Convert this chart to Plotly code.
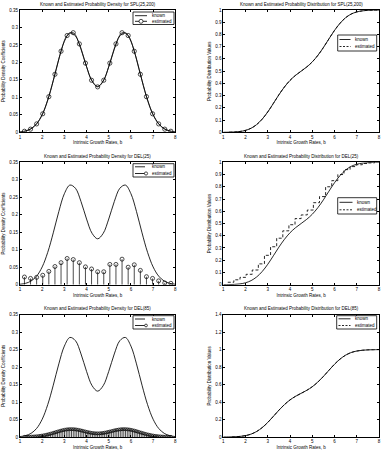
import numpy as np
import plotly.graph_objects as go

W, H = 382, 453
FONT = "Liberation Sans"
FS = 4.5

# ---------------- data ----------------
x_known = [1.0, 1.25, 1.5, 1.75, 2.0, 2.25, 2.5, 2.75, 3.0, 3.25, 3.5, 3.75, 4.0, 4.25, 4.5,
           4.75, 5.0, 5.25, 5.5, 5.75, 6.0, 6.25, 6.5, 6.75, 7.0, 7.25, 7.5, 7.75, 8.0]
pdf_known = [0.0013, 0.0039, 0.0105, 0.0246, 0.0508, 0.0925, 0.1483, 0.2093, 0.2602, 0.2849,
             0.2757, 0.2377, 0.1878, 0.1468, 0.1312, 0.1468, 0.1878, 0.2377, 0.2757, 0.2849,
             0.2602, 0.2093, 0.1483, 0.0925, 0.0508, 0.0246, 0.0105, 0.0039, 0.0013]
cdf_known = [0.0003, 0.0009, 0.0025, 0.0067, 0.0158, 0.0334, 0.0633, 0.108, 0.167, 0.236,
             0.307, 0.371, 0.4245, 0.466, 0.5, 0.534, 0.5755, 0.629, 0.693, 0.764,
             0.833, 0.892, 0.937, 0.967, 0.984, 0.993, 0.9975, 0.9992, 0.9998]

x_25 = [1.2, 1.475, 1.75, 2.025, 2.3, 2.575, 2.85, 3.125, 3.4, 3.675, 3.95, 4.225, 4.5,
        4.775, 5.05, 5.325, 5.6, 5.875, 6.15, 6.425, 6.7, 6.975, 7.25, 7.525, 7.8]
pdf_spl = [0.003, 0.009, 0.024, 0.053, 0.102, 0.166, 0.232, 0.277, 0.285, 0.253, 0.198, 0.149,
           0.130, 0.149, 0.198, 0.253, 0.285, 0.277, 0.232, 0.166, 0.102, 0.053, 0.024, 0.009, 0.003]
x_cdf_spl = [1.25, 1.5, 1.75, 2.0, 2.25, 2.5, 2.75, 3.0, 3.25, 3.5, 3.75, 4.0, 4.25, 4.5,
             4.75, 5.0, 5.25, 5.5, 5.75, 6.0, 6.25, 6.5, 6.75, 7.0, 7.25, 7.5, 7.75, 8.0]
cdf_spl = [0.0009, 0.0025, 0.0067, 0.0158, 0.0334, 0.0633, 0.108, 0.167, 0.236,
           0.307, 0.371, 0.4245, 0.466, 0.5, 0.534, 0.5755, 0.629, 0.693, 0.764,
           0.833, 0.892, 0.937, 0.967, 0.984, 0.993, 0.9975, 0.9992, 0.9998]

pdf_del25 = [0.022, 0.018, 0.021, 0.027, 0.038, 0.052, 0.063, 0.075, 0.072, 0.063, 0.051, 0.045,
             0.037, 0.037, 0.058, 0.058, 0.073, 0.050, 0.057, 0.041, 0.023, 0.018, 0.011, 0.005, 0.004]
cdf_del25 = [0.02, 0.04, 0.06, 0.085, 0.12, 0.17, 0.24, 0.31, 0.38, 0.44, 0.49, 0.54,
             0.57, 0.61, 0.67, 0.72, 0.80, 0.85, 0.90, 0.94, 0.965, 0.98, 0.99, 0.995, 1.0]

x_85 = list(np.linspace(1.2, 7.8, 85))
pdf_del85 = [0.00025, 0.00035, 0.00048, 0.00065, 0.00087, 0.00114, 0.0015, 0.00193, 0.00246,
             0.00309, 0.00384, 0.00472, 0.00571, 0.00683, 0.00807, 0.00942, 0.01085, 0.01234,
             0.01386, 0.01538, 0.01684, 0.01822, 0.01946, 0.02052, 0.02137, 0.02198, 0.02238,
             0.02246, 0.02227, 0.02183, 0.02115, 0.02026, 0.0192, 0.01803, 0.01679, 0.01554,
             0.01433, 0.0132, 0.01222, 0.01141, 0.0108, 0.01043, 0.01031,
             0.01043, 0.0108, 0.01141, 0.01222, 0.0132, 0.01433, 0.01554, 0.01679, 0.01803,
             0.0192, 0.02026, 0.02115, 0.02183, 0.02227, 0.02246, 0.02238, 0.02198, 0.02137,
             0.02052, 0.01946, 0.01822, 0.01684, 0.01538, 0.01386, 0.01234, 0.01085, 0.00942,
             0.00807, 0.00683, 0.00571, 0.00472, 0.00384, 0.00309, 0.00246, 0.00193, 0.0015,
             0.00114, 0.00087, 0.00065, 0.00048, 0.00035, 0.00025]
x_cdf85 = [1.4, 1.5, 1.75, 2.0, 2.25, 2.5, 2.75, 3.0, 3.25, 3.5, 3.75, 4.0, 4.25, 4.5,
           4.75, 5.0, 5.25, 5.5, 5.75, 6.0, 6.25, 6.5, 6.75, 7.0, 7.25, 7.5, 7.75, 7.8]
cdf_del85 = [0.002, 0.0025, 0.0067, 0.0158, 0.0334, 0.0633, 0.108, 0.167, 0.236,
             0.307, 0.371, 0.4245, 0.466, 0.5, 0.534, 0.5755, 0.629, 0.693, 0.764,
             0.833, 0.892, 0.937, 0.967, 0.984, 0.993, 0.9975, 0.9992, 0.9995]

x_ticks = [1, 2, 3, 4, 5, 6, 7, 8]
pdf_ticks = [0, 0.05, 0.1, 0.15, 0.2, 0.25, 0.3, 0.35]
pdf_ticktext = ["0", "0.05", "0.1", "0.15", "0.2", "0.25", "0.3", "0.35"]
cdf_ticks = [0, 0.1, 0.2, 0.3, 0.4, 0.5, 0.6, 0.7, 0.8, 0.9, 1.0]
cdf_ticktext = ["0", "0.1", "0.2", "0.3", "0.4", "0.5", "0.6", "0.7", "0.8", "0.9", "1"]
cdf2_ticks = [0, 0.2, 0.4, 0.6, 0.8, 1.0, 1.2, 1.4]
cdf2_ticktext = ["0", "0.2", "0.4", "0.6", "0.8", "1", "1.2", "1.4"]

titles = [
    "Known and Estimated Probability Density for SPL(25,200)",
    "Known and Estimated Probability Distribution for SPL(25,200)",
    "Known and Estimated Probability Density for DEL(25)",
    "Known and Estimated Probability Distribution for DEL(25)",
    "Known and Estimated Probability Density for DEL(85)",
    "Known and Estimated Probability Distribution for DEL(85)",
]
xlabel = "Intrinsic Growth Rates, b"
ylabel_pdf = "Probability Density Coefficients"
ylabel_cdf = "Probability Distribution Values"

# ---------------- layout geometry (pixels) ----------------
cols = [(20, 175.3), (223.3, 379)]
rows = [(10, 132.3), (162.3, 284.7), (314.7, 437)]


def px(x):
    return x / W


def py(y):
    return 1 - y / H


fig = go.Figure()

K = dict(color="black", width=0.85)


def ax(i):
    return ("x" if i == 1 else f"x{i}"), ("y" if i == 1 else f"y{i}")


def stems(xs, ys, i, msize):
    sx, sy, mx, my = [], [], [], []
    for a, b in zip(xs, ys):
        sx += [a, a, None]
        sy += [0, b, None]
        mx += [a, None]
        my += [b, None]
    xa, ya = ax(i)
    fig.add_trace(go.Scatter(x=sx, y=sy, mode="lines", line=dict(color="black", width=0.7),
                             xaxis=xa, yaxis=ya, showlegend=False, hoverinfo="skip"))
    fig.add_trace(go.Scatter(x=mx, y=my, mode="markers", name="estimated",
                             marker=dict(symbol="circle-open", size=msize, color="black",
                                         line=dict(width=0.7, color="black")),
                             xaxis=xa, yaxis=ya, showlegend=False))


# Panel 1
xa, ya = ax(1)
fig.add_trace(go.Scatter(x=x_known, y=pdf_known, mode="lines", line=dict(shape="spline", **K),
                         name="known", xaxis=xa, yaxis=ya, showlegend=False))
fig.add_trace(go.Scatter(x=x_25, y=pdf_spl, mode="lines+markers", name="estimated",
                         line=dict(shape="spline", color="black", width=0.7),
                         marker=dict(symbol="circle-open", size=4.2, color="black",
                                     line=dict(width=0.7, color="black")),
                         xaxis=xa, yaxis=ya, showlegend=False))
# Panel 2
xa, ya = ax(2)
fig.add_trace(go.Scatter(x=x_known, y=cdf_known, mode="lines", line=dict(shape="spline", **K),
                         name="known", xaxis=xa, yaxis=ya, showlegend=False))
fig.add_trace(go.Scatter(x=x_cdf_spl, y=cdf_spl, mode="lines", name="estimated",
                         line=dict(shape="spline", color="black", width=0.85, dash="3px,2px"),
                         xaxis=xa, yaxis=ya, showlegend=False))
# Panel 3
xa, ya = ax(3)
fig.add_trace(go.Scatter(x=x_known, y=pdf_known, mode="lines", line=dict(shape="spline", **K),
                         name="known", xaxis=xa, yaxis=ya, showlegend=False))
stems(x_25, pdf_del25, 3, 4)
# Panel 4
xa, ya = ax(4)
fig.add_trace(go.Scatter(x=x_known, y=cdf_known, mode="lines", line=dict(shape="spline", **K),
                         name="known", xaxis=xa, yaxis=ya, showlegend=False))
fig.add_trace(go.Scatter(x=x_25, y=cdf_del25, mode="lines", name="estimated",
                         line=dict(shape="hv", color="black", width=0.85, dash="3px,2px"),
                         xaxis=xa, yaxis=ya, showlegend=False))
# Panel 5
xa, ya = ax(5)
fig.add_trace(go.Scatter(x=x_known, y=pdf_known, mode="lines", line=dict(shape="spline", **K),
                         name="known", xaxis=xa, yaxis=ya, showlegend=False))
stems(x_85, pdf_del85, 5, 3)
# Panel 6
xa, ya = ax(6)
fig.add_trace(go.Scatter(x=x_known, y=cdf_known, mode="lines", line=dict(shape="spline", **K),
                         name="known", xaxis=xa, yaxis=ya, showlegend=False))
fig.add_trace(go.Scatter(x=x_cdf85, y=cdf_del85, mode="lines", name="estimated",
                         line=dict(shape="spline", color="black", width=0.85, dash="3px,2px"),
                         xaxis=xa, yaxis=ya, showlegend=False))

layout = dict(
    width=W, height=H, margin=dict(l=0, r=0, t=0, b=0),
    paper_bgcolor="white", plot_bgcolor="white",
    font=dict(family=FONT, size=FS, color="black"),
    showlegend=False,
)

common = dict(showline=True, linecolor="black", linewidth=1, mirror="ticks", ticks="inside",
              ticklen=2, tickwidth=0.7, tickcolor="black", showgrid=False, zeroline=False,
              automargin=False, tickfont=dict(family=FONT, size=FS, color="black"))

annotations = []
shapes = []
for r in range(3):
    for c in range(2):
        i = r * 2 + c + 1
        x0, x1 = cols[c]
        t0, t1 = rows[r]
        xk = "xaxis" if i == 1 else f"xaxis{i}"
        yk = "yaxis" if i == 1 else f"yaxis{i}"
        yid = "y" if i == 1 else f"y{i}"
        xid = "x" if i == 1 else f"x{i}"
        if c == 0:
            yt, ytt, yr, yl = pdf_ticks, pdf_ticktext, [0, 0.35], ylabel_pdf
        elif i == 6:
            yt, ytt, yr, yl = cdf2_ticks, cdf2_ticktext, [0, 1.4], ylabel_cdf
        else:
            yt, ytt, yr, yl = cdf_ticks, cdf_ticktext, [0, 1], ylabel_cdf
        layout[xk] = dict(common, domain=[px(x0), px(x1)], range=[1, 8], tickvals=x_ticks,
                          anchor=yid,
                          title=dict(text=xlabel, standoff=2, font=dict(size=FS)))
        layout[yk] = dict(common, domain=[py(t1), py(t0)], range=yr, tickvals=yt, ticktext=ytt,
                          anchor=xid,
                          title=dict(text=yl, standoff=3, font=dict(size=FS)))
        annotations.append(dict(text=titles[i - 1], x=px((x0 + x1) / 2), y=py(t0 - 6),
                                xref="paper", yref="paper", xanchor="center", yanchor="middle",
                                showarrow=False, font=dict(size=FS)))


# ---------------- manual legends (pixel geometry) ----------------
def legend(box, entries):
    bx0, by0, bx1, by1 = box
    shapes.append(dict(type="rect", xref="paper", yref="paper", x0=px(bx0), x1=px(bx1),
                       y0=py(by1), y1=py(by0), line=dict(color="black", width=0.8),
                       fillcolor="white", layer="above"))
    for e in entries:
        y = e["y"]
        shapes.append(dict(type="line", xref="paper", yref="paper", x0=px(e["l0"]), x1=px(e["l1"]),
                           y0=py(y), y1=py(y), layer="above",
                           line=dict(color="black", width=0.85, dash=e.get("dash", "solid"))))
        if "m" in e:
            rr = e.get("r", 2)
            shapes.append(dict(type="circle", xref="paper", yref="paper",
                               x0=px(e["m"] - rr), x1=px(e["m"] + rr),
                               y0=py(y + rr), y1=py(y - rr), layer="above",
                               line=dict(color="black", width=0.7), fillcolor="white"))
        annotations.append(dict(text=e["t"], x=px(e["tx"]), y=py(y), xref="paper", yref="paper",
                                xanchor="left", yanchor="middle", showarrow=False,
                                font=dict(size=FS)))


legend((133, 12, 174, 24.5), [
    dict(y=15.7, l0=135, l1=147, t="known", tx=150),
    dict(y=21.3, l0=135, l1=147, m=141, t="estimated", tx=150),
])
legend((337.7, 35, 376.7, 51), [
    dict(y=39.5, l0=339.5, l1=350.5, t="known", tx=353),
    dict(y=46.5, l0=339.5, l1=350.5, dash="2px,1.5px", t="estimated", tx=353),
])
legend((133, 163.7, 174, 177), [
    dict(y=166.8, l0=135, l1=145, t="known", tx=150),
    dict(y=173.5, l0=135, l1=145, m=146, r=1.6, t="estimated", tx=150),
])
legend((337.7, 197.7, 376.7, 214), [
    dict(y=202.3, l0=339.5, l1=352.5, t="known", tx=355),
    dict(y=209.8, l0=339.5, l1=352.5, dash="2px,1.5px", t="estimated", tx=355),
])
legend((133, 315.7, 174, 329), [
    dict(y=319, l0=135, l1=145, t="known", tx=150),
    dict(y=325.5, l0=135, l1=145, m=146, r=1.4, t="estimated", tx=150),
])
legend((336.7, 315.7, 376.7, 329), [
    dict(y=318.8, l0=338.5, l1=350.5, t="known", tx=353),
    dict(y=325.5, l0=338.5, l1=350.5, dash="2px,1.5px", t="estimated", tx=353),
])

layout["annotations"] = annotations
layout["shapes"] = shapes
fig.update_layout(**layout)
fig.write_html("out.html")
